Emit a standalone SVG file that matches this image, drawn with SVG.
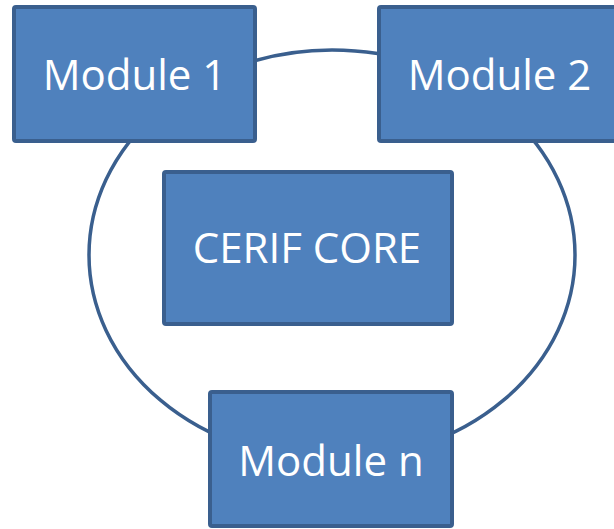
<svg xmlns="http://www.w3.org/2000/svg" width="614" height="529" viewBox="0 0 614 529">
<style>
.box{fill:#4f81bd;stroke:#3a5f8e;stroke-width:4}
.lbl{font-family:"Open Sans","Liberation Sans",sans-serif;font-size:42px;fill:#ffffff;text-anchor:middle}
.ring{fill:none;stroke:#3a5f8e;stroke-width:3.5}
</style>
<rect width="614" height="529" fill="#ffffff"/>
<g id="connectors">
<ellipse class="ring" cx="332" cy="255" rx="243" ry="205"/>
</g>
<g id="module1">
<rect class="box" x="14" y="7" width="241" height="134" rx="2"/>
<text class="lbl" x="134.5" y="90">Module 1</text>
</g>
<g id="module2">
<rect class="box" x="379" y="7" width="241" height="134" rx="2"/>
<text class="lbl" x="499.5" y="90">Module 2</text>
</g>
<g id="core">
<rect class="box" x="164" y="172" width="288" height="152" rx="2"/>
<text class="lbl" x="307" y="263">CERIF CORE</text>
</g>
<g id="modulen">
<rect class="box" x="210" y="392" width="242" height="134" rx="2"/>
<text class="lbl" x="331" y="476">Module n</text>
</g>
</svg>
